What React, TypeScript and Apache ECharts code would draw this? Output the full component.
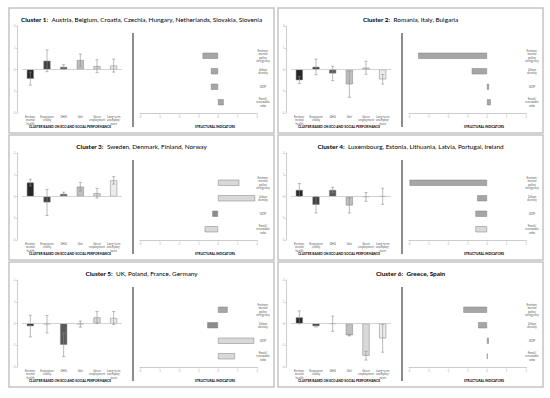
import React, { useEffect, useRef } from "react";
import * as echarts from "echarts";

// ---------- DATA ----------
const LEFT_CATEGORIES = [
  "Environ-\nmental\nhealth",
  "Ecosystem\nvitality",
  "GHG",
  "Gini",
  "Green\nemployment",
  "Long-term\nunemploy-\nment",
];
const RIGHT_CATEGORIES = [
  "Environ-\nmental\npolicy\nstringency",
  "Urban\ndensity",
  "GDP",
  "Fossil/\nrenewable\nratio",
];
const LEFT_Y_MIN = -2;
const LEFT_Y_MAX = 2;
const RIGHT_X_MIN = -4;
const RIGHT_X_MAX = 2;

const CLUSTER_LABELS = ["Cluster 1:", "Cluster 2:", "Cluster 3:", "Cluster 4:", "Cluster 5:", "Cluster 6:"];
const CLUSTER_COUNTRIES = [
  "Austria, Belgium, Croatia, Czechia, Hungary, Netherlands, Slovakia, Slovenia",
  "Romania, Italy, Bulgaria",
  "Sweden, Denmark, Finland, Norway",
  "Luxembourg, Estonia, Lithuania, Latvia, Portugal, Ireland",
  "UK, Poland, France, Germany",
  "Greece, Spain",
];
const LEFT_AXIS_TITLE = "CLUSTER BASED ON ECO AND SOCIAL PERFORMANCE";
const RIGHT_AXIS_TITLE = "STRUCTURAL INDICATORS";

const C1_MEANS = [-0.42, 0.4, 0.12, 0.43, 0.15, 0.18];
const C1_ERRORS = [0.3, 0.5, 0.1, 0.28, 0.3, 0.3];
const C1_STRUCTURAL = [-0.79, -0.36, -0.36, 0.29];

const C2_MEANS = [-0.49, 0.12, -0.18, -0.68, 0.08, -0.45];
const C2_ERRORS = [0.16, 0.36, 0.33, 0.6, 0.3, 0.22];
const C2_STRUCTURAL = [-3.53, -0.78, 0.1, 0.19];

const C3_MEANS = [0.64, -0.27, 0.12, 0.45, 0.15, 0.74];
const C3_ERRORS = [0.15, 0.6, 0.08, 0.2, 0.22, 0.17];
const C3_STRUCTURAL = [1.09, 1.9, -0.29, -0.68];

const C4_MEANS = [0.3, -0.38, 0.3, -0.41, -0.02, 0.01];
const C4_ERRORS = [0.3, 0.38, 0.12, 0.35, 0.2, 0.37];
const C4_STRUCTURAL = [-3.97, -0.5, -0.59, -0.59];

const C5_MEANS = [-0.12, -0.03, -0.98, -0.03, 0.28, 0.25];
const C5_ERRORS = [0.5, 0.4, 0.54, 0.14, 0.27, 0.3];
const C5_STRUCTURAL = [0.49, -0.55, 1.85, 0.87];

const C6_MEANS = [0.28, -0.12, -0.01, -0.54, -1.48, -0.68];
const C6_ERRORS = [0.3, 0.04, 0.35, 0.03, 0.2, 0.64];
const C6_STRUCTURAL = [-1.21, -0.45, 0.09, 0.03];

const CLUSTER_MEANS = [C1_MEANS, C2_MEANS, C3_MEANS, C4_MEANS, C5_MEANS, C6_MEANS];
const CLUSTER_ERRORS = [C1_ERRORS, C2_ERRORS, C3_ERRORS, C4_ERRORS, C5_ERRORS, C6_ERRORS];
const CLUSTER_STRUCTURAL = [C1_STRUCTURAL, C2_STRUCTURAL, C3_STRUCTURAL, C4_STRUCTURAL, C5_STRUCTURAL, C6_STRUCTURAL];

// ---------- STYLES ----------
const LEFT_COLORS = ["#262626", "#404040", "#595959", "#bfbfbf", "#d9d9d9", "#ececec"];
const G = "#a6a6a6";
const D = "#8c8c8c";
const L = "#d9d9d9";
const RIGHT_COLORS = [
  [G, G, G, G],
  [G, G, G, G],
  [L, L, D, L],
  [G, G, G, L],
  [G, D, L, L],
  [G, G, G, G],
];
const TITLE_ALL_BOLD = [false, false, false, false, false, true];
const PANEL_ORIGINS = [
  [9, 8],
  [278, 8],
  [9, 135],
  [278, 135],
  [9, 262],
  [278, 262],
];
const PANEL_W = 265;
const PANEL_H = 125;
const FONT = "Lato, 'Liberation Sans', sans-serif";

function buildOption() {
  const grid: any[] = [];
  const xAxis: any[] = [];
  const yAxis: any[] = [];
  const series: any[] = [];
  const graphic: any[] = [];

  PANEL_ORIGINS.forEach(([px, py], i) => {
    const gl = 2 * i;
    const gr = 2 * i + 1;
    grid.push({ left: px + 13, top: py + 18, width: 100, height: 87 });
    grid.push({ left: px + 131, top: py + 40, width: 117, height: 62 });

    xAxis.push({
      type: "category",
      gridIndex: gl,
      data: LEFT_CATEGORIES,
      axisLine: { show: false, onZero: false },
      axisTick: { show: false },
      axisLabel: {
        interval: 0,
        fontSize: 2.9,
        lineHeight: 3.4,
        color: "#595959",
        margin: 2,
        fontFamily: FONT,
      },
      splitLine: { show: false },
    });
    yAxis.push({
      type: "value",
      gridIndex: gl,
      min: LEFT_Y_MIN,
      max: LEFT_Y_MAX,
      interval: 1,
      offset: 5,
      axisLine: { show: true, lineStyle: { color: "#bfbfbf", width: 0.8 } },
      axisTick: { show: true, length: 1.5, lineStyle: { color: "#bfbfbf", width: 0.6 } },
      axisLabel: { fontSize: 3, color: "#b0b0b0", margin: 1.5, fontFamily: FONT },
      splitLine: { show: false },
    });
    xAxis.push({
      type: "value",
      gridIndex: gr,
      min: RIGHT_X_MIN,
      max: RIGHT_X_MAX,
      interval: 1,
      position: "bottom",
      offset: 3,
      axisLine: { show: true, onZero: false, lineStyle: { color: "#bfbfbf", width: 0.8 } },
      axisTick: { show: true, length: 1.5, lineStyle: { color: "#bfbfbf", width: 0.6 } },
      axisLabel: { fontSize: 3, color: "#b0b0b0", margin: 2, fontFamily: FONT },
      splitLine: { show: false },
    });
    yAxis.push({
      type: "category",
      gridIndex: gr,
      data: RIGHT_CATEGORIES,
      inverse: true,
      position: "right",
      axisLine: { show: false, onZero: false },
      axisTick: { show: false },
      axisLabel: {
        interval: 0,
        align: "center",
        margin: 6,
        fontSize: 3,
        lineHeight: 3.5,
        color: "#595959",
        fontFamily: FONT,
      },
      splitLine: { show: false },
    });

    const means = CLUSTER_MEANS[i];
    const errs = CLUSTER_ERRORS[i];
    series.push({
      type: "bar",
      xAxisIndex: gl,
      yAxisIndex: gl,
      barWidth: 7,
      data: means.map((v, k) => ({ value: v, itemStyle: { color: LEFT_COLORS[k] } })),
      itemStyle: { borderColor: "#7f7f7f", borderWidth: 0.5 },
      markLine: {
        silent: true,
        symbol: ["none", "none"],
        label: { show: false },
        lineStyle: { color: "#c8c8c8", width: 0.8, type: "solid" },
        data: [{ yAxis: 0 }],
      },
    });
    series.push({
      type: "custom",
      xAxisIndex: gl,
      yAxisIndex: gl,
      z: 5,
      data: means.map((v, k) => [k, v - errs[k], v + errs[k]]),
      encode: { x: 0, y: [1, 2] },
      renderItem: (params: any, api: any) => {
        const x = api.value(0);
        const lo = api.coord([x, api.value(1)]);
        const hi = api.coord([x, api.value(2)]);
        const h = 1.5;
        const st = { stroke: "#8c8c8c", lineWidth: 0.6 };
        return {
          type: "group",
          children: [
            { type: "line", shape: { x1: lo[0], y1: lo[1], x2: hi[0], y2: hi[1] }, style: st },
            { type: "line", shape: { x1: lo[0] - h, y1: lo[1], x2: lo[0] + h, y2: lo[1] }, style: st },
            { type: "line", shape: { x1: hi[0] - h, y1: hi[1], x2: hi[0] + h, y2: hi[1] }, style: st },
          ],
        };
      },
    });
    series.push({
      type: "bar",
      xAxisIndex: gr,
      yAxisIndex: gr,
      barWidth: 6,
      data: CLUSTER_STRUCTURAL[i].map((v, k) => ({ value: v, itemStyle: { color: RIGHT_COLORS[i][k] } })),
      itemStyle: { borderColor: "#7f7f7f", borderWidth: 0.5 },
    });

    // panel decorations
    graphic.push({
      type: "rect",
      shape: { x: px, y: py, width: PANEL_W, height: PANEL_H },
      style: { fill: "none", stroke: "#c4c4c4", lineWidth: 1.5 },
      silent: true,
    });
    const bold = TITLE_ALL_BOLD[i];
    graphic.push({
      type: "text",
      x: px + PANEL_W / 2,
      y: py + 11,
      silent: true,
      style: {
        text: `{b|${CLUSTER_LABELS[i]}} {n|${CLUSTER_COUNTRIES[i]}}`,
        align: "center",
        verticalAlign: "middle",
        rich: {
          b: { fontSize: 6.4, fontWeight: "bold", fontFamily: FONT, fill: "#000" },
          n: { fontSize: 6.4, fontWeight: bold ? "bold" : "normal", fontFamily: FONT, fill: "#000" },
        },
      },
    });
    graphic.push({
      type: "line",
      silent: true,
      shape: { x1: px + 124, y1: py + 25, x2: px + 124, y2: py + 119 },
      style: { stroke: "#404040", lineWidth: 1.2 },
    });
    graphic.push({
      type: "text",
      x: px + 61,
      y: py + 119,
      silent: true,
      style: {
        text: LEFT_AXIS_TITLE,
        align: "center",
        verticalAlign: "middle",
        fontSize: 3.2,
        fontWeight: "bold",
        fontFamily: FONT,
        fill: "#000",
      },
    });
    graphic.push({
      type: "text",
      x: px + 206,
      y: py + 119,
      silent: true,
      style: {
        text: RIGHT_AXIS_TITLE,
        align: "center",
        verticalAlign: "middle",
        fontSize: 3.2,
        fontWeight: "bold",
        fontFamily: FONT,
        fill: "#000",
      },
    });
  });

  return {
    animation: false,
    backgroundColor: "#ffffff",
    grid,
    xAxis,
    yAxis,
    series,
    graphic,
  };
}

export default function App() {
  const ref = useRef<HTMLDivElement>(null);
  useEffect(() => {
    if (!ref.current) return;
    const chart = echarts.init(ref.current, undefined, { renderer: "svg" });
    chart.setOption(buildOption() as any);
    return () => chart.dispose();
  }, []);
  return (
    <div
      ref={ref}
      style={{ position: "fixed", left: 0, top: 0, width: 550, height: 398, background: "#fff" }}
    />
  );
}
